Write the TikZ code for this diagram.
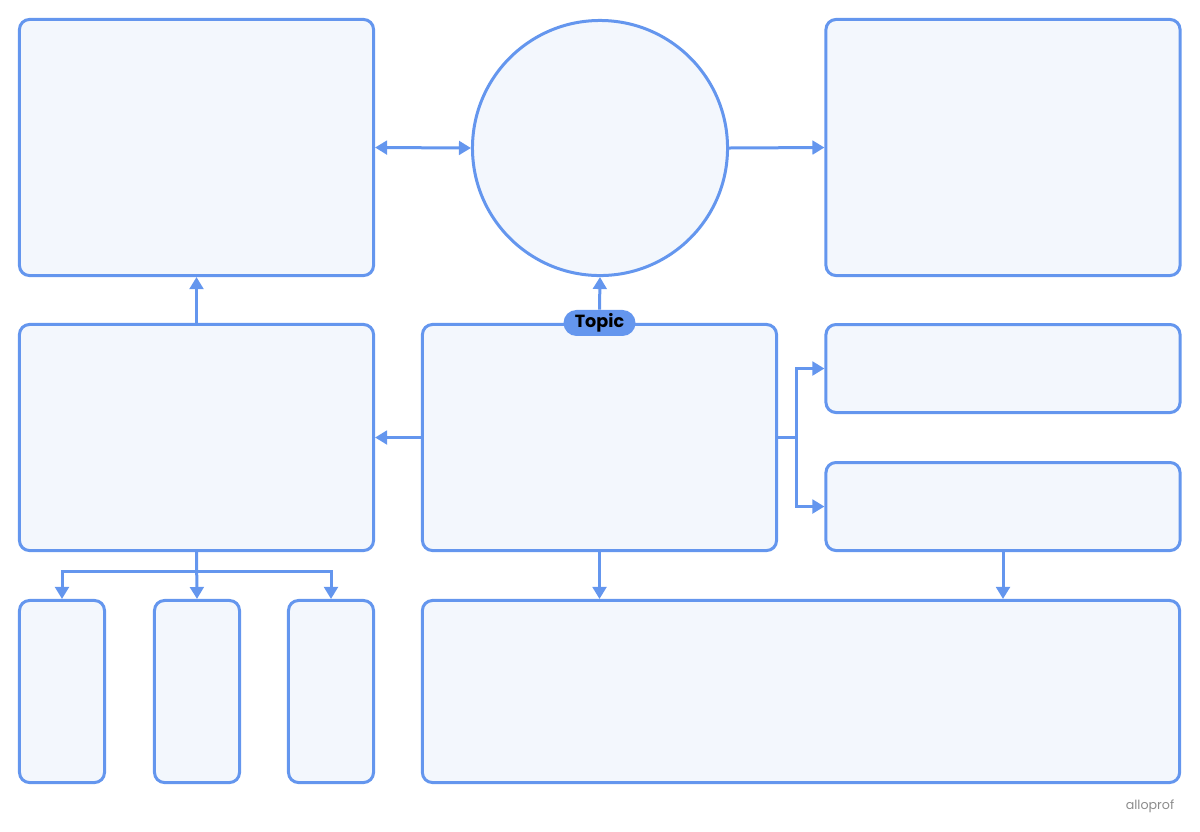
\documentclass[tikz,border=0pt]{standalone}
\usepackage{fontspec}
\setmainfont{Poppins}
\usepackage{tikz}
\usetikzlibrary{arrows.meta}
\usetikzlibrary{positioning}
\definecolor{line}{RGB}{100, 150, 238}
\definecolor{pale}{RGB}{243, 247, 253}
\definecolor{logo}{RGB}{140, 140, 140}
\tikzset{
    tip/.tip={Triangle[length=0.3cm,width=0.34cm]},
    arrow/.style={-tip, line width=0.075cm, draw=line},
    link/.style={line width=0.075cm, draw=line},
    box/.style = {
      rectangle,
      rounded corners=0.25cm,
      draw=line,
      line width=0.075cm,
      fill=pale,
      inner sep=0pt
    },
    bigbox/.style = {box, minimum width=8.85cm, minimum height=6.4cm},
    midbox/.style = {box, minimum width=8.85cm, minimum height=5.65cm},
    flatbox/.style = {box, minimum width=8.85cm, minimum height=2.2cm},
    tallbox/.style = {box, minimum width=2.125cm, minimum height=4.55cm},
}
\begin{document}
\begin{tikzpicture}[x=0.025cm, y=-0.025cm]
      \useasboundingbox (0,0) rectangle (1200,831);

      % top row
      \node [bigbox] (history) at (196.5,147.5) {};
      \node [circle, draw=line, line width=0.075cm, fill=pale, minimum size=6.375cm, inner sep=0pt] (core) at (600,148) {};
      \node [bigbox] (result) at (1003,147.5) {};

      % middle row
      \node [midbox] (cause) at (196.5,437.5) {};
      \node [midbox] (topicbox) at (599.5,437.5) {};
      \node [flatbox] (upper) at (1003,368.5) {};
      \node [flatbox] (lower) at (1003,506.5) {};

      % bottom row
      \node [tallbox] (first) at (62,691.5) {};
      \node [tallbox] (second) at (197,691.5) {};
      \node [tallbox] (third) at (331,691.5) {};
      \node [box, minimum width=18.925cm, minimum height=4.55cm] (summary) at (801,691.5) {};

      \node [
        rectangle,
        rounded corners=0.325cm,
        fill=line,
        minimum width=1.8cm,
        minimum height=0.65cm,
        inner sep=0pt,
        font=\fontsize{12.5}{14}\selectfont\bfseries
      ] (topic) at (topicbox.north) {Topic};

      \draw[arrow, tip-tip] (history.east) -- (core.west);
      \draw[arrow] (core.east) -- (result.west);
      \draw[arrow] (topic.north) -- (core.south);
      \draw[arrow] (cause.north) -- (history.south);
      \draw[arrow] (topicbox.west) -- (cause.east);

      \coordinate (split) at (796,437.5);
      \draw[link] (topicbox.east) -- (split);
      \draw[arrow] (split) |- (upper.west);
      \draw[arrow] (split) |- (lower.west);

      \coordinate (fork) at (197,571);
      \draw[arrow] (cause.south) -- (second.north);
      \draw[arrow] (fork) -| (first.north);
      \draw[arrow] (fork) -| (third.north);

      \draw[arrow] (topicbox.south) -- (topicbox.south |- summary.north);
      \draw[arrow] (lower.south) -- (lower.south |- summary.north);

      \node [text=logo, font=\fontsize{9}{10}\selectfont] (brand) at (1150,806) {alloprof};
\end{tikzpicture}
\end{document}
